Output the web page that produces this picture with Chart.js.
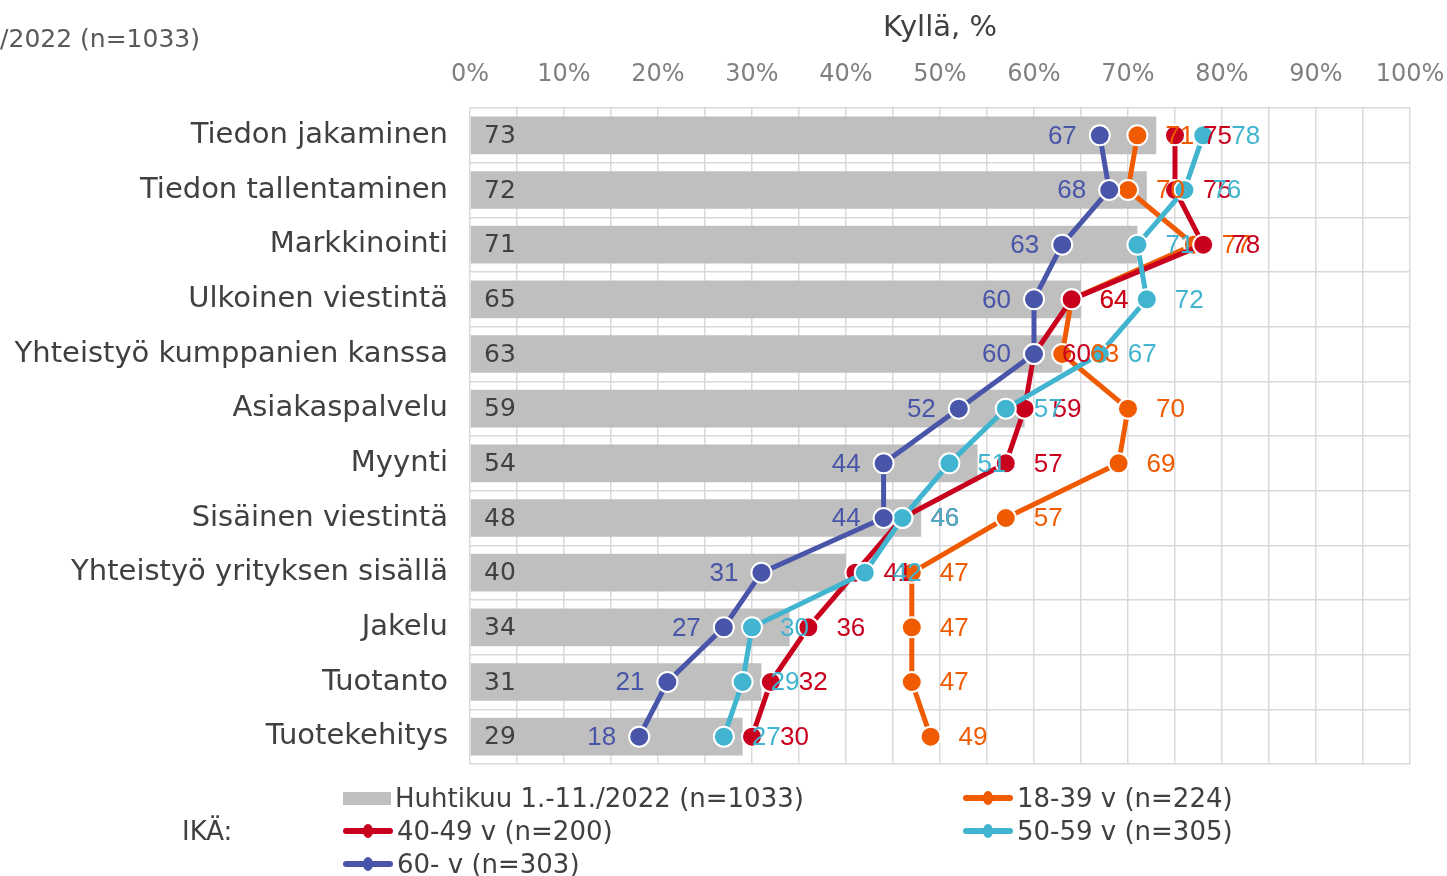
<!DOCTYPE html>
<html lang="fi">
<head>
<meta charset="utf-8">
<title>Kyllä, %</title>
<script src="https://cdn.jsdelivr.net/npm/chart.js@4.4.1/dist/chart.umd.min.js"></script>
<style>
  html, body { margin: 0; padding: 0; background: #fff; }
  body { width: 1447px; height: 876px; position: relative; overflow: hidden; font-family: "DejaVu Sans", Verdana, sans-serif; }
  #chart { position: absolute; left: 0; top: 0; }
  .cut-title { position: absolute; right: 1247px; top: 24px; font-size: 25px; color: #595959; white-space: nowrap; line-height: 30px; }
  .lg { position: absolute; font-size: 26px; color: #404040; white-space: nowrap; line-height: 30px; display: flex; align-items: center; }
  .lg .box { width: 48px; height: 13px; background: #bfbfbf; margin-right: 4px; }
  .lg .mk { width: 50px; height: 6px; border-radius: 3px; margin-right: 4px; position: relative; background: var(--c); }
  .lg .mk::after { content: ''; position: absolute; left: 20px; top: -4px; width: 10px; height: 14px; border-radius: 50%; background: var(--c); }
</style>
</head>
<body>
<canvas id="chart" width="1447" height="876"></canvas>
<div class="cut-title">Huhtikuu 1.-11./2022 (n=1033)</div>

<div class="lg" style="left:343px; top:783px;"><span class="box"></span>Huhtikuu 1.-11./2022 (n=1033)</div>
<div class="lg" style="left:963px; top:783px;"><span class="mk" style="--c:#f05a00"></span>18-39 v (n=224)</div>
<div class="lg" style="left:182px; top:816px;">IKÄ:</div>
<div class="lg" style="left:343px; top:816px;"><span class="mk" style="--c:#c8001e"></span>40-49 v (n=200)</div>
<div class="lg" style="left:963px; top:816px;"><span class="mk" style="--c:#41b4cf"></span>50-59 v (n=305)</div>
<div class="lg" style="left:343px; top:849px;"><span class="mk" style="--c:#4855a8"></span>60- v (n=303)</div>

<script>
(() => {
  'use strict';

  // ── Data ──────────────────────────────────────────────────
  const categories = [
    'Tiedon jakaminen', 'Tiedon tallentaminen', 'Markkinointi', 'Ulkoinen viestintä',
    'Yhteistyö kumppanien kanssa', 'Asiakaspalvelu', 'Myynti', 'Sisäinen viestintä',
    'Yhteistyö yrityksen sisällä', 'Jakelu', 'Tuotanto', 'Tuotekehitys',
  ];
  const total   = [73, 72, 71, 65, 63, 59, 54, 48, 40, 34, 31, 29];
  const age1839 = [71, 70, 77, 64, 63, 70, 69, 57, 47, 47, 47, 49];
  const age4049 = [75, 75, 78, 64, 60, 59, 57, 46, 41, 36, 32, 30];
  const age5059 = [78, 76, 71, 72, 67, 57, 51, 46, 42, 30, 29, 27];
  const age60   = [67, 68, 63, 60, 60, 52, 44, 44, 31, 27, 21, 18];
  const xTicks  = [0, 10, 20, 30, 40, 50, 60, 70, 80, 90, 100];

  // ── Styles ────────────────────────────────────────────────
  const ORANGE = '#f05a00';
  const RED = '#c8001e';
  const CYAN = '#41b4cf';
  const BLUE = '#4855a8';
  const GRID = '#d9d9d9';
  const TEXT = '#404040';
  const VERDANA = '"DejaVu Sans", Verdana, sans-serif';

  const lineStyle = color => ({
    type: 'line',
    borderColor: color,
    backgroundColor: color,
    borderWidth: 5,
    tension: 0,
    pointRadius: 10,
    pointHoverRadius: 10,
    pointBorderColor: '#fff',
    pointBorderWidth: 2,
    pointBackgroundColor: color,
  });

  // ── Value labels ──────────────────────────────────────────
  const valueLabels = {
    id: 'valueLabels',
    afterDatasetsDraw(chart) {
      const { ctx, chartArea } = chart;
      ctx.save();
      ctx.textBaseline = 'middle';
      chart.data.datasets.forEach((ds, i) => {
        const meta = chart.getDatasetMeta(i);
        meta.data.forEach((el, j) => {
          const v = ds.data[j];
          if (ds.type === 'bar') {
            ctx.font = '25px ' + VERDANA;
            ctx.fillStyle = TEXT;
            ctx.textAlign = 'left';
            ctx.fillText(v, chartArea.left + 14, el.y + 1);
          } else {
            ctx.font = '26px "Liberation Sans", Arial, sans-serif';
            ctx.fillStyle = ds.borderColor;
            if (ds.labelSide === 'left') {
              ctx.textAlign = 'right';
              ctx.fillText(v, el.x - 23, el.y + 1);
            } else {
              ctx.textAlign = 'left';
              ctx.fillText(v, el.x + 28, el.y + 1);
            }
          }
        });
      });
      ctx.restore();
    },
  };

  // ── Chart ─────────────────────────────────────────────────
  new Chart(document.getElementById('chart'), {
    type: 'bar',
    data: {
      labels: categories,
      datasets: [
        {
          type: 'bar', label: 'Huhtikuu 1.-11./2022 (n=1033)', data: total,
          backgroundColor: '#bfbfbf', barPercentage: 0.69, categoryPercentage: 1, order: 5,
        },
        { ...lineStyle(ORANGE), label: '18-39 v (n=224)', data: age1839, order: 4 },
        { ...lineStyle(RED), label: '40-49 v (n=200)', data: age4049, order: 3 },
        { ...lineStyle(CYAN), label: '50-59 v (n=305)', data: age5059, order: 2 },
        { ...lineStyle(BLUE), label: '60- v (n=303)', data: age60, order: 1, labelSide: 'left' },
      ],
    },
    options: {
      indexAxis: 'y',
      responsive: false,
      animation: false,
      devicePixelRatio: 1,
      layout: { padding: { left: 0, right: 37, top: 0, bottom: 112 } },
      plugins: {
        legend: { display: false },
        tooltip: { enabled: false },
      },
      scales: {
        x: {
          type: 'linear',
          position: 'top',
          min: 0,
          max: 100,
          afterBuildTicks: axis => {
            const t = [];
            for (let v = 0; v <= 100; v += 5) t.push({ value: v });
            axis.ticks = t;
          },
          afterFit: axis => {
            axis.height = 108;
            axis.paddingLeft = 0;
            axis.paddingRight = 0;
          },
          ticks: {
            autoSkip: false,
            maxRotation: 0,
            padding: 19,
            color: '#808080',
            font: { family: VERDANA, size: 24 },
            callback: v => (xTicks.includes(v) ? v + '%' : ''),
          },
          grid: { color: GRID, drawTicks: false, lineWidth: 1.5 },
          border: { display: false },
          title: {
            display: true,
            text: 'Kyllä, %',
            color: TEXT,
            padding: { top: 11, bottom: 0 },
            font: { family: VERDANA, size: 29 },
          },
        },
        y: {
          type: 'category',
          afterFit: axis => { axis.width = 470; },
          ticks: {
            padding: 22,
            color: TEXT,
            font: { family: VERDANA, size: 29 },
          },
          grid: { color: GRID, drawTicks: false, offset: true, lineWidth: 1.5 },
          border: { display: false },
        },
        y2: {
          type: 'linear',
          position: 'right',
          reverse: true,
          min: 0.137,
          max: 12.137,
          afterBuildTicks: axis => {
            axis.ticks = axis.ticks.filter(t => Number.isInteger(t.value));
          },
          afterFit: axis => { axis.width = 0; },
          ticks: { display: false, stepSize: 1 },
          grid: { color: GRID, drawTicks: false, lineWidth: 1.5 },
          border: { display: false },
        },
      },
    },
    plugins: [valueLabels],
  });
})();
</script>
</body>
</html>
